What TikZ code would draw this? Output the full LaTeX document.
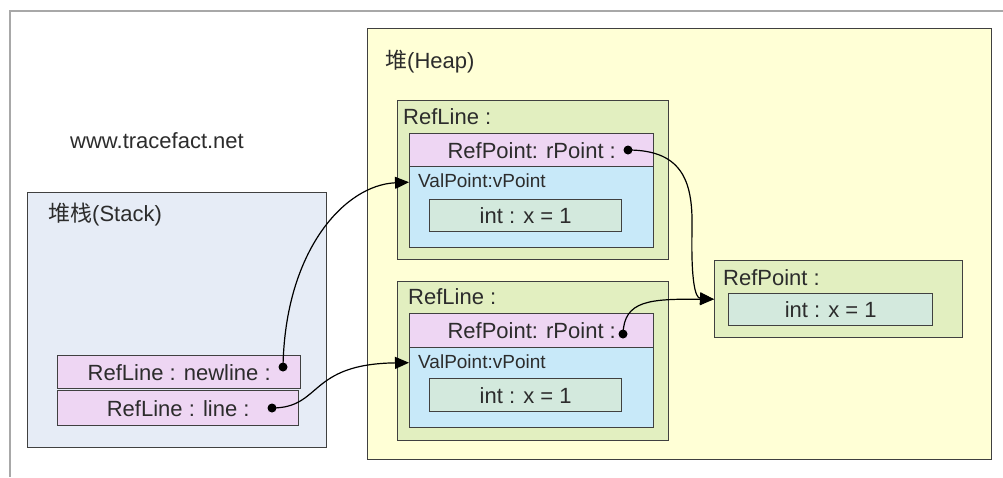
\documentclass[tikz,border=0pt]{standalone}
\usepackage{fontspec}
\setmainfont{Liberation Sans}
\newfontfamily\cjk{Noto Sans CJK SC}
\usetikzlibrary{arrows.meta}

\definecolor{framegray}{HTML}{A8A8A8}
\definecolor{boxline}{HTML}{404040}
\definecolor{heapfill}{HTML}{FFFFD6}
\definecolor{stackfill}{HTML}{E6ECF6}
\definecolor{objfill}{HTML}{E2EFC0}
\definecolor{reffill}{HTML}{EED6F3}
\definecolor{valfill}{HTML}{C8E9F9}
\definecolor{intfill}{HTML}{D3E9DD}
\definecolor{txt}{HTML}{2C2C2C}

\tikzset{
  area/.style={draw=boxline, line width=1.4pt, anchor=north west, inner sep=0pt},
  heapbox/.style={area, fill=heapfill},
  stackbox/.style={area, fill=stackfill},
  objbox/.style={area, fill=objfill},
  refbox/.style={area, fill=reffill, text=txt, font=\fontsize{22}{26}\selectfont},
  valbox/.style={area, fill=valfill},
  intbox/.style={area, fill=intfill, text=txt, font=\fontsize{22}{26}\selectfont},
  lbl/.style={anchor=west, inner sep=0pt, text=txt, font=\fontsize{22}{26}\selectfont},
  smalllbl/.style={anchor=west, inner sep=0pt, text=txt, font=\fontsize{19}{23}\selectfont},
  refdot/.style={circle, fill=black, inner sep=0pt, minimum size=9pt},
  link/.style={draw=black, line width=1.2pt, -{Triangle[length=14pt,width=12pt]}}
}

\begin{document}
\begin{tikzpicture}[x=1pt, y=-1pt]
\useasboundingbox (0,0) rectangle (1003,477);

% page frame
\draw[framegray, line width=1.4pt] (1003,11) -- (10,11) -- (10,477);

% heap region
\node[heapbox, minimum width=624pt, minimum height=431pt] (heap) at (367,28) {};
\node[lbl] (heaplbl) at (385,62) {{\cjk 堆}(Heap)};

\node[lbl] (site) at (70,141) {www.tracefact.net};

% stack region
\node[stackbox, minimum width=299pt, minimum height=255pt] (stack) at (27,192) {};
\node[lbl] (stacklbl) at (48,215) {{\cjk 堆栈}(Stack)};
\node[refbox, minimum width=243pt, minimum height=33pt] (snew) at (57,355) {RefLine : newline :};
\node[refbox, minimum width=241pt, minimum height=35pt] (sline) at (57,390) {RefLine : line :};
\node[refdot] (dnew) at (283,367) {};
\node[refdot] (dline) at (272,408) {};

% first RefLine object
\node[objbox, minimum width=271pt, minimum height=159pt] (obj1) at (397,100) {};
\node[lbl] (obj1lbl) at (403,117) {RefLine :};
\node[refbox, minimum width=244pt, minimum height=33pt] (ref1) at (409,133) {RefPoint: rPoint :};
\node[valbox, minimum width=244pt, minimum height=81pt] (val1) at (409,166) {};
\node[smalllbl] (val1lbl) at (418,181) {ValPoint:vPoint};
\node[intbox, minimum width=192pt, minimum height=32pt] (int1) at (429,199) {int : x = 1};
\node[refdot] (d1) at (628,150) {};

% second RefLine object
\node[objbox, minimum width=271pt, minimum height=159pt] (obj2) at (397,281) {};
\node[lbl] (obj2lbl) at (408,297) {RefLine :};
\node[refbox, minimum width=244pt, minimum height=34pt] (ref2) at (409,313) {RefPoint: rPoint :};
\node[valbox, minimum width=244pt, minimum height=80pt] (val2) at (409,347) {};
\node[smalllbl] (val2lbl) at (418,362) {ValPoint:vPoint};
\node[intbox, minimum width=192pt, minimum height=33pt] (int2) at (429,378) {int : x = 1};
\node[refdot] (d2) at (623,334) {};

% shared RefPoint object
\node[objbox, minimum width=248pt, minimum height=77pt] (rp) at (714,260) {};
\node[lbl] (rplbl) at (723,278) {RefPoint :};
\node[intbox, minimum width=204pt, minimum height=32pt] (rpint) at (728,293) {int : x = 1};

% references
\draw[link] (dnew.center) .. controls (285,250) and (345,185) .. ([yshift=25pt]val1.west);
\draw[link] (dline.center) .. controls (322,408) and (308,364) .. ([yshift=25pt]val2.west);
\draw[link] (d1.center) .. controls (685,150) and (693,185) .. (692,230) .. controls (691,280) and (695,298) .. (rp.west);
\draw[link] (d2.center) .. controls (624,300) and (650,299) .. (rp.west);
\end{tikzpicture}
\end{document}
